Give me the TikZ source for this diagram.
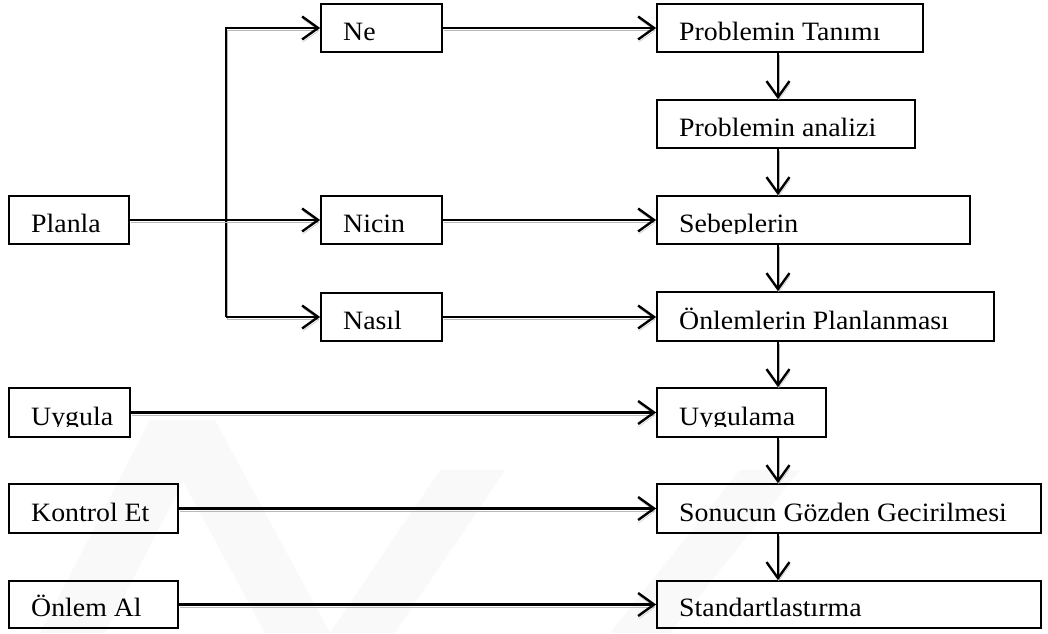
\documentclass[tikz,border=0pt]{standalone}
\usepackage{fontspec}
\setmainfont{Liberation Serif}[FakeStretch=1.05]
\usetikzlibrary{arrows.meta,fit}

\tikzset{
  boxsty/.style={draw=black, line width=1.7pt, inner sep=0pt},
  lbl/.style={anchor=base west, inner sep=0pt, font=\fontsize{26.5}{30}\selectfont},
  conn/.style={line width=2.4pt, line cap=butt, line join=miter,
    -{Straight Barb[length=16pt,width=23pt,line width=2.4pt]},
    preaction={draw=black!28, transform canvas={shift={(0.8pt,-2.6pt)}}}},
}

% box: name, left, top, right, bottom
\newcommand\flowbox[5]{\node[boxsty, fit={(#2,#3)(#4,#5)}] (#1) {};}
% label placed at fixed offset from the box's lower-left corner
\newcommand\boxtext[3]{\node[lbl] at (#1+22,#2-12) {#3};}
% label whose descenders are cut off by the frame of its text area
\newcommand\cuttext[5]{\begin{scope}\clip (#1,#2-44) rectangle (#3,#4);
  \node[lbl] at (#1+22,#2-12) {#5};\end{scope}}

\begin{document}
\begin{tikzpicture}[x=1pt,y=-1pt]
\useasboundingbox (0,0) rectangle (1048,633);
\fill[white] (0,0) rectangle (1048,633);

% faint background emblem
\begin{scope}[black!2.5]
  \fill (40,633) -- (150,420) -- (215,420) -- (105,633) -- cycle;
  \fill (150,420) -- (215,420) -- (330,633) -- (265,633) -- cycle;
  \fill (610,633) -- (740,470) -- (800,470) -- (670,633) -- cycle;
  \fill (330,633) -- (440,470) -- (505,470) -- (395,633) -- cycle;
\end{scope}

% left column
\flowbox{planla}{9}{196}{129}{244}
\flowbox{uygula}{9}{388}{130}{437}
\flowbox{kontrol}{9}{484}{178}{533}
\flowbox{onlemal}{9}{581}{178}{628}

% middle column
\flowbox{ne}{321}{4}{442}{52}
\flowbox{nicin}{321}{196}{442}{244}
\flowbox{nasil}{321}{293}{442}{341}

% right column
\flowbox{tanim}{657}{4}{923}{52}
\flowbox{analiz}{657}{100}{915}{148}
\flowbox{sebep}{657}{196}{970}{244}
\flowbox{planlama}{657}{292}{994}{341}
\flowbox{uygulama}{657}{388}{826}{437}
\flowbox{sonuc}{657}{484}{1041}{533}
\flowbox{standart}{657}{581}{1041}{628}

% labels
\boxtext{9}{244}{Planla}
\cuttext{9}{437}{130}{426.5}{Uygula}
\boxtext{9}{533}{Kontrol Et}
\boxtext{9}{628}{Önlem Al}
\boxtext{321}{52}{Ne}
\cuttext{321}{244}{442}{233.5}{Nicin}
\boxtext{321}{341}{Nasıl}
\boxtext{657}{52}{Problemin Tanımı}
\boxtext{657}{148}{Problemin analizi}
\cuttext{657}{244}{970}{233.5}{Sebeplerin}
\boxtext{657}{341}{Önlemlerin Planlanması}
\cuttext{657}{437}{826}{426.5}{Uygulama}
\boxtext{657}{533}{Sonucun Gözden Gecirilmesi}
\cuttext{657}{628}{1041}{617.5}{Standartlastırma}

% branching from Planla
\coordinate (brx) at (226,220);
\draw[conn] (brx |- nasil.west) -- (brx |- ne.west) -- (ne.west);
\draw[conn] (brx |- nasil.west) -- (nasil.west);
\draw[conn] (planla.east) -- (planla.east -| nicin.west);

% horizontal links into the right column
\draw[conn] (ne.east) -- (ne.east -| tanim.west);
\draw[conn] (nicin.east) -- (nicin.east -| sebep.west);
\draw[conn] (nasil.east) -- (nasil.east -| planlama.west);
\draw[conn] (uygula.east) -- (uygula.east -| uygulama.west);
\draw[conn] (kontrol.east) -- (kontrol.east -| sonuc.west);
\draw[conn] (onlemal.east) -- (onlemal.east -| standart.west);

% vertical sequence of steps
\coordinate (colx) at (778,0);
\draw[conn] (tanim.south -| colx) -- (analiz.north -| colx);
\draw[conn] (analiz.south -| colx) -- (sebep.north -| colx);
\draw[conn] (sebep.south -| colx) -- (planlama.north -| colx);
\draw[conn] (planlama.south -| colx) -- (uygulama.north -| colx);
\draw[conn] (uygulama.south -| colx) -- (sonuc.north -| colx);
\draw[conn] (sonuc.south -| colx) -- (standart.north -| colx);
\end{tikzpicture}
\end{document}
